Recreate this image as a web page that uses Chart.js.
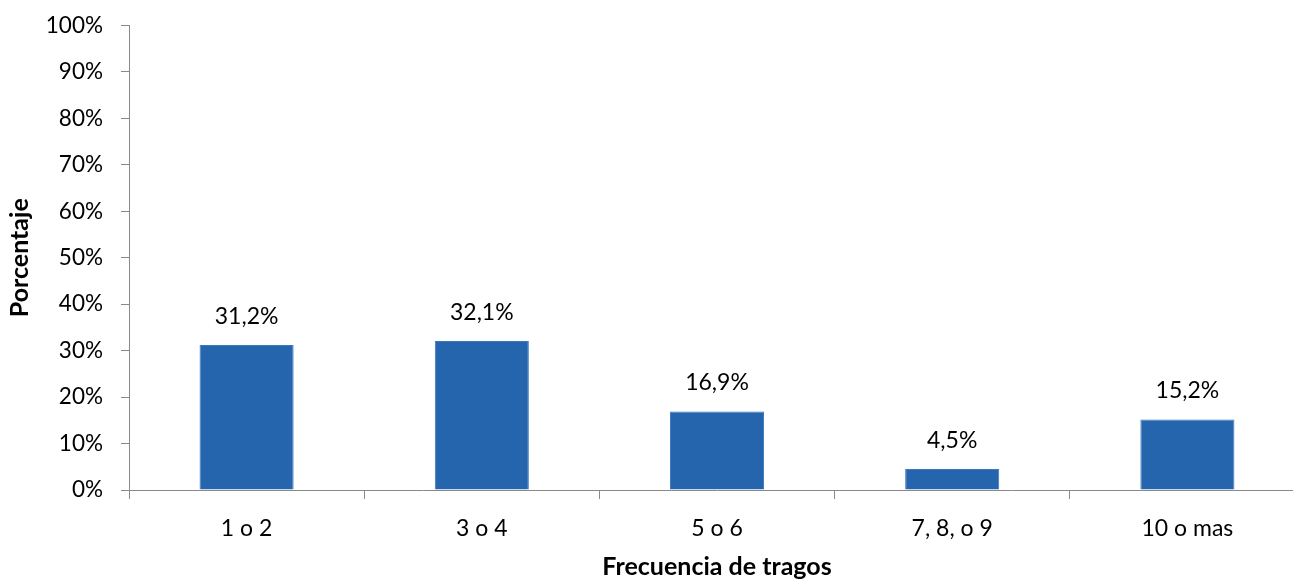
<!DOCTYPE html>
<html>
<head>
<meta charset="utf-8">
<script src="https://cdn.jsdelivr.net/npm/chart.js@4/dist/chart.umd.min.js"></script>
<style>
  html, body { margin: 0; padding: 0; background: #fff; overflow: hidden; }
  #wrap { width: 1305px; height: 589px; margin-top: -6px; }
</style>
</head>
<body>
<div id="wrap"><canvas id="chart" width="1305" height="589"></canvas></div>
<script>
const categories = ["1 o 2", "3 o 4", "5 o 6", "7, 8, o 9", "10 o mas"];
const percentages = [31.2, 32.1, 16.9, 4.5, 15.2];
const yTicks = [0, 10, 20, 30, 40, 50, 60, 70, 80, 90, 100];

const axisColor = "#898989";
const barColor = "#2565ae";
const fontFamily = "Lato, 'Open Sans', sans-serif";

// etiquetas encima de las barras (con coma decimal)
const valueLabels = {
  id: "valueLabels",
  afterDatasetsDraw(chart) {
    const ctx = chart.ctx;
    const meta = chart.getDatasetMeta(0);
    ctx.save();
    ctx.font = "23px " + fontFamily;
    ctx.fillStyle = "#000";
    ctx.textAlign = "center";
    ctx.textBaseline = "bottom";
    meta.data.forEach((bar, i) => {
      const txt = percentages[i].toFixed(1).replace(".", ",") + "%";
      ctx.fillText(txt, bar.x, bar.y - 17);
    });
    ctx.restore();
  }
};

new Chart(document.getElementById("chart"), {
  type: "bar",
  data: {
    labels: categories,
    datasets: [{
      data: percentages,
      backgroundColor: barColor,
      borderColor: "#3a78bd",
      borderWidth: 1,
      barPercentage: 0.4,
      categoryPercentage: 1
    }]
  },
  options: {
    responsive: false,
    animation: false,
    layout: { padding: { top: 19, left: 0, right: 0, bottom: 0 } },
    plugins: {
      legend: { display: false },
      tooltip: { enabled: false }
    },
    scales: {
      x: {
        offset: true,
        grid: {
          offset: true,
          drawOnChartArea: false,
          drawTicks: true,
          tickLength: 9,
          color: axisColor
        },
        border: { color: axisColor, width: 1 },
        ticks: {
          color: "#000",
          padding: 16,
          font: { family: fontFamily, size: 23 }
        },
        title: {
          display: true,
          text: "Frecuencia de tragos",
          color: "#000",
          font: { family: fontFamily, size: 25, weight: "bold" },
          padding: { top: 0, bottom: 1 }
        },
        afterFit(scale) { scale.height = 93; }
      },
      y: {
        min: 0,
        max: 100,
        afterBuildTicks(scale) {
          scale.ticks = yTicks.map(v => ({ value: v }));
        },
        grid: {
          drawOnChartArea: false,
          drawTicks: true,
          tickLength: 8,
          color: axisColor
        },
        border: { color: axisColor, width: 1 },
        ticks: {
          color: "#000",
          padding: 18,
          font: { family: fontFamily, size: 22.5 },
          callback: v => v + "%"
        },
        title: {
          display: true,
          text: "Porcentaje",
          color: "#000",
          font: { family: fontFamily, size: 25, weight: "bold" },
          padding: { top: 5, bottom: 0 }
        },
        afterFit(scale) { scale.width = 129; }
      }
    }
  },
  plugins: [valueLabels]
});
</script>
</body>
</html>
